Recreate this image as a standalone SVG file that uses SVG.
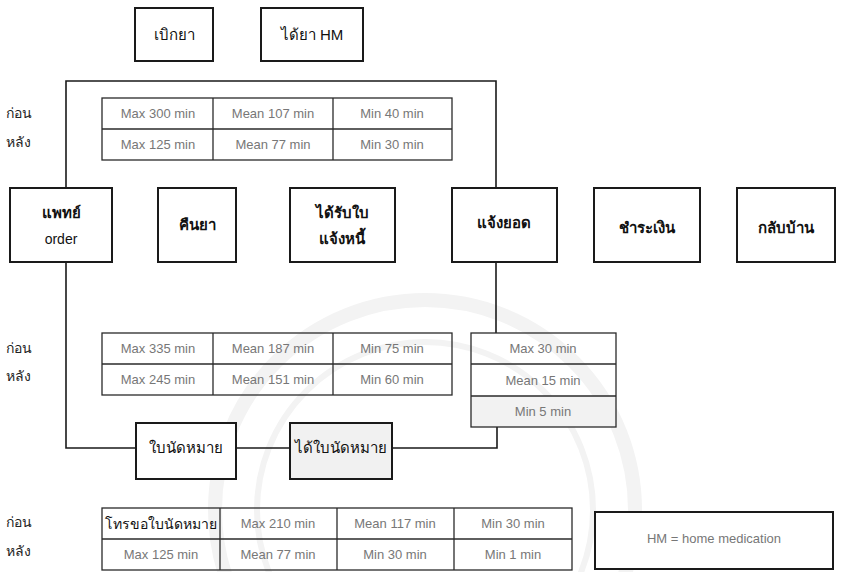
<svg xmlns="http://www.w3.org/2000/svg" width="841" height="572" viewBox="0 0 841 572">
  <style>
    .box { fill: #ffffff; stroke: #1a1a1a; stroke-width: 2; }
    .grey { fill: #f1f1f1; }
    .tbl { fill: none; stroke: #2a2a2a; stroke-width: 1.3; }
    .wire { fill: none; stroke: #1a1a1a; stroke-width: 1.6; }
    .lbl { font-family: "Liberation Sans", "DejaVu Sans", sans-serif; font-size: 15px; fill: #111; text-anchor: middle; }
    .bold { font-weight: bold; }
    .val { font-family: "Liberation Sans", "DejaVu Sans", sans-serif; font-size: 13px; fill: #777; text-anchor: middle; }
    .side { font-family: "Liberation Sans", "DejaVu Sans", sans-serif; font-size: 14px; fill: #222; }
    .seal { fill: none; stroke: #f3f3f3; }
  </style>

  <rect width="841" height="572" fill="#ffffff"/>

  <!-- faint seal in the background -->
  <g id="seal">
    <circle class="seal" cx="425" cy="510" r="210" stroke-width="14"/>
    <circle class="seal" cx="425" cy="510" r="168" stroke-width="6"/>
  </g>

  <!-- connectors -->
  <g id="connectors">
    <polyline class="wire" points="66,188 66,81 496,81 496,188"/>
    <polyline class="wire" points="66,262 66,448 136,448"/>
    <line class="wire" x1="236" y1="448" x2="290" y2="448"/>
    <polyline class="wire" points="392,448 497,448 497,427"/>
    <line class="wire" x1="496" y1="262" x2="496" y2="333"/>
  </g>

  <!-- top row -->
  <g id="node-withdraw">
    <rect class="box" x="135" y="8" width="78" height="53"/>
    <text class="lbl" x="174" y="40">เบิกยา</text>
  </g>
  <g id="node-get-hm">
    <rect class="box" x="261" y="8" width="102" height="53"/>
    <text class="lbl" x="312" y="40">ได้ยา HM</text>
  </g>

  <!-- main row -->
  <g id="node-doctor">
    <rect class="box" x="10" y="188" width="102" height="74"/>
    <text class="lbl bold" x="61" y="218">แพทย์</text>
    <text class="lbl" x="61" y="244" style="font-size:14px">order</text>
  </g>
  <g id="node-return">
    <rect class="box" x="158" y="188" width="78" height="74"/>
    <text class="lbl bold" x="197" y="230">คืนยา</text>
  </g>
  <g id="node-invoice">
    <rect class="box" x="290" y="188" width="105" height="74"/>
    <text class="lbl bold" x="342" y="218">ได้รับใบ</text>
    <text class="lbl bold" x="342" y="244">แจ้งหนี้</text>
  </g>
  <g id="node-notify">
    <rect class="box" x="452" y="188" width="105" height="74"/>
    <text class="lbl bold" x="504" y="228">แจ้งยอด</text>
  </g>
  <g id="node-pay">
    <rect class="box" x="594" y="188" width="106" height="74"/>
    <text class="lbl bold" x="647" y="233">ชำระเงิน</text>
  </g>
  <g id="node-home">
    <rect class="box" x="737" y="188" width="98" height="74"/>
    <text class="lbl bold" x="786" y="233">กลับบ้าน</text>
  </g>

  <!-- appointment row -->
  <g id="node-appt">
    <rect class="box" x="136" y="423" width="100" height="56"/>
    <text class="lbl" x="186" y="453">ใบนัดหมาย</text>
  </g>
  <g id="node-get-appt">
    <rect class="box grey" x="290" y="423" width="102" height="56"/>
    <text class="lbl" x="341" y="453">ได้ใบนัดหมาย</text>
  </g>

  <!-- timing table: top -->
  <g id="table-top">
    <rect class="tbl" x="102" y="98" width="350" height="62"/>
    <line class="tbl" x1="102" y1="129" x2="452" y2="129"/>
    <line class="tbl" x1="213" y1="98" x2="213" y2="160"/>
    <line class="tbl" x1="333" y1="98" x2="333" y2="160"/>
    <text class="val" x="158" y="118">Max 300 min</text>
    <text class="val" x="273" y="118">Mean 107 min</text>
    <text class="val" x="392" y="118">Min 40 min</text>
    <text class="val" x="158" y="149">Max 125 min</text>
    <text class="val" x="273" y="149">Mean 77 min</text>
    <text class="val" x="392" y="149">Min 30 min</text>
    <text class="side" x="6" y="118">ก่อน</text>
    <text class="side" x="6" y="147">หลัง</text>
  </g>

  <!-- timing table: middle -->
  <g id="table-mid">
    <rect class="tbl" x="102" y="333" width="350" height="62"/>
    <line class="tbl" x1="102" y1="364" x2="452" y2="364"/>
    <line class="tbl" x1="213" y1="333" x2="213" y2="395"/>
    <line class="tbl" x1="333" y1="333" x2="333" y2="395"/>
    <text class="val" x="158" y="353">Max 335 min</text>
    <text class="val" x="273" y="353">Mean 187 min</text>
    <text class="val" x="392" y="353">Min 75 min</text>
    <text class="val" x="158" y="384">Max 245 min</text>
    <text class="val" x="273" y="384">Mean 151 min</text>
    <text class="val" x="392" y="384">Min 60 min</text>
    <text class="side" x="6" y="353">ก่อน</text>
    <text class="side" x="6" y="381">หลัง</text>
  </g>

  <!-- timing table: billing -->
  <g id="table-bill">
    <rect x="471" y="396" width="145" height="31" fill="#f2f2f2"/>
    <rect class="tbl" x="471" y="333" width="145" height="94"/>
    <line class="tbl" x1="471" y1="364" x2="616" y2="364"/>
    <line class="tbl" x1="471" y1="396" x2="616" y2="396"/>
    <text class="val" x="543" y="353">Max 30 min</text>
    <text class="val" x="543" y="385">Mean 15 min</text>
    <text class="val" x="543" y="416">Min 5 min</text>
  </g>

  <!-- timing table: bottom -->
  <g id="table-bottom">
    <rect class="tbl" x="102" y="508" width="470" height="62"/>
    <line class="tbl" x1="102" y1="539" x2="572" y2="539"/>
    <line class="tbl" x1="220" y1="508" x2="220" y2="570"/>
    <line class="tbl" x1="337" y1="508" x2="337" y2="570"/>
    <line class="tbl" x1="454" y1="508" x2="454" y2="570"/>
    <text class="lbl" x="161" y="529" style="font-size:14px">โทรขอใบนัดหมาย</text>
    <text class="val" x="278" y="528">Max 210 min</text>
    <text class="val" x="395" y="528">Mean 117 min</text>
    <text class="val" x="513" y="528">Min 30 min</text>
    <text class="val" x="161" y="559">Max 125 min</text>
    <text class="val" x="278" y="559">Mean 77 min</text>
    <text class="val" x="395" y="559">Min 30 min</text>
    <text class="val" x="513" y="559">Min 1 min</text>
    <text class="side" x="6" y="527">ก่อน</text>
    <text class="side" x="6" y="556">หลัง</text>
  </g>

  <!-- legend -->
  <g id="legend">
    <rect class="box" x="595" y="512" width="238" height="57"/>
    <text class="val" x="714" y="543">HM = home medication</text>
  </g>
</svg>
